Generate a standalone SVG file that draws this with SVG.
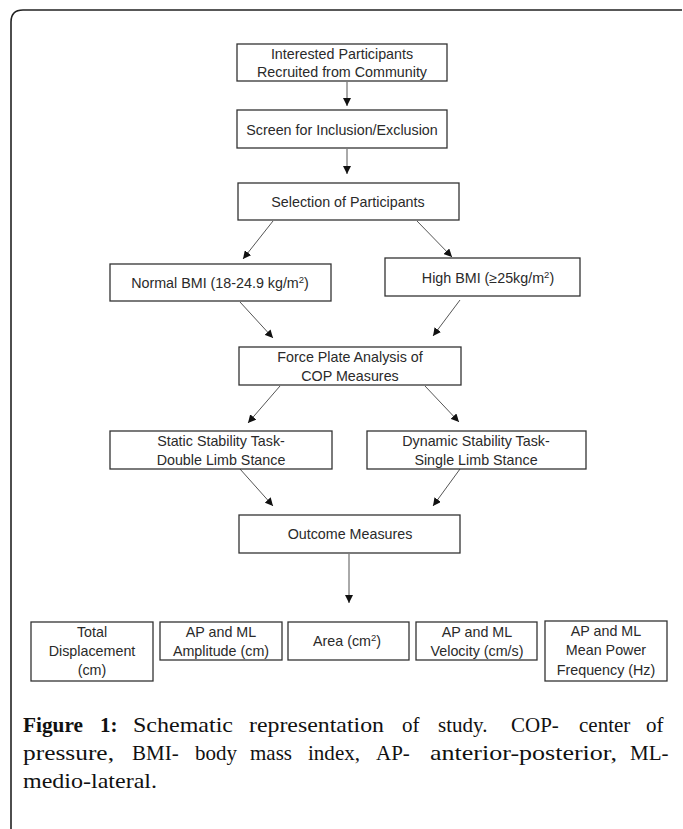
<svg xmlns="http://www.w3.org/2000/svg" width="683" height="829" viewBox="0 0 683 829">
<style>
.box{fill:#fff;stroke:#333;stroke-width:1.3}
.t{font-family:"Liberation Sans",Arial,sans-serif;font-size:14.3px;fill:#2a2a2a;text-anchor:middle}
.c{stroke:#555;stroke-width:1;fill:none;marker-end:url(#ah)}
.cap{font-family:"Liberation Serif","Times New Roman",serif;font-size:21px;fill:#111}
.b{font-weight:bold}
</style>
<defs>
<marker id="ah" viewBox="0 0 10 10" refX="10" refY="5" markerWidth="8" markerHeight="8" markerUnits="userSpaceOnUse" orient="auto">
<path d="M0,0 L10,5 L0,10 z" fill="#111"/>
</marker>
</defs>
<rect width="683" height="829" fill="#fff"/>
<path d="M11,829 V22 Q11,10 23,10 H682" fill="none" stroke="#222" stroke-width="1.6"/>

<g id="connectors">
<line class="c" x1="347" y1="82" x2="347" y2="106"/>
<line class="c" x1="347" y1="149" x2="347" y2="174"/>
<line class="c" x1="273" y1="221" x2="243" y2="259"/>
<line class="c" x1="417" y1="221" x2="452" y2="257"/>
<line class="c" x1="240" y1="302" x2="273" y2="338"/>
<line class="c" x1="460" y1="300" x2="433" y2="336"/>
<line class="c" x1="280" y1="386" x2="248" y2="423"/>
<line class="c" x1="425" y1="386" x2="459" y2="422"/>
<line class="c" x1="240" y1="469" x2="273" y2="506"/>
<line class="c" x1="460" y1="469" x2="433" y2="506"/>
<line class="c" x1="349" y1="554" x2="349" y2="603"/>
</g>

<g id="n1"><rect class="box" x="237" y="44" width="210" height="37"/>
<text class="t" x="342" y="59">Interested Participants</text>
<text class="t" x="342" y="77">Recruited from Community</text></g>

<g id="n2"><rect class="box" x="237" y="110" width="210" height="38"/>
<text class="t" x="342" y="135">Screen for Inclusion/Exclusion</text></g>

<g id="n3"><rect class="box" x="238" y="183" width="221" height="37"/>
<text class="t" x="348" y="207">Selection of Participants</text></g>

<g id="n4"><rect class="box" x="110" y="264" width="221" height="37"/>
<text class="t" x="220" y="288">Normal BMI (18-24.9 kg/m<tspan font-size="9.5" dy="-5">2</tspan><tspan dy="5">)</tspan></text></g>

<g id="n5"><rect class="box" x="385" y="258" width="195" height="38"/>
<text class="t" x="488" y="283">High BMI (≥25kg/m<tspan font-size="9.5" dy="-5">2</tspan><tspan dy="5">)</tspan></text></g>

<g id="n6"><rect class="box" x="239" y="347" width="222" height="38"/>
<text class="t" x="350" y="362">Force Plate Analysis of</text>
<text class="t" x="350" y="381">COP Measures</text></g>

<g id="n7"><rect class="box" x="110" y="431" width="222" height="38"/>
<text class="t" x="221" y="446">Static Stability Task-</text>
<text class="t" x="221" y="465">Double Limb Stance</text></g>

<g id="n8"><rect class="box" x="367" y="431" width="219" height="38"/>
<text class="t" x="476" y="446">Dynamic Stability Task-</text>
<text class="t" x="476" y="465">Single Limb Stance</text></g>

<g id="n9"><rect class="box" x="239" y="515" width="221" height="38"/>
<text class="t" x="350" y="539">Outcome Measures</text></g>

<g id="b1"><rect class="box" x="31" y="622" width="122" height="59"/>
<text class="t" x="92" y="637">Total</text>
<text class="t" x="92" y="656">Displacement</text>
<text class="t" x="92" y="675">(cm)</text></g>

<g id="b2"><rect class="box" x="160" y="622" width="122" height="38"/>
<text class="t" x="221" y="637">AP and ML</text>
<text class="t" x="221" y="656">Amplitude (cm)</text></g>

<g id="b3"><rect class="box" x="288" y="622" width="121" height="38"/>
<text class="t" x="347" y="646">Area (cm<tspan font-size="9.5" dy="-5">2</tspan><tspan dy="5">)</tspan></text></g>

<g id="b4"><rect class="box" x="416" y="622" width="121" height="38"/>
<text class="t" x="477" y="637">AP and ML</text>
<text class="t" x="477" y="656">Velocity (cm/s)</text></g>

<g id="b5"><rect class="box" x="545" y="621" width="122" height="60"/>
<text class="t" x="606" y="636">AP and ML</text>
<text class="t" x="606" y="655">Mean Power</text>
<text class="t" x="606" y="675">Frequency (Hz)</text></g>

<g id="caption" class="cap">
<text class="b" x="23" y="732" textLength="60" lengthAdjust="spacingAndGlyphs">Figure</text>
<text class="b" x="100" y="732">1:</text>
<text x="133" y="732" textLength="100" lengthAdjust="spacingAndGlyphs">Schematic</text>
<text x="249" y="732" textLength="135" lengthAdjust="spacingAndGlyphs">representation</text>
<text x="402" y="732">of</text>
<text x="438" y="732">study.</text>
<text x="511" y="732">COP-</text>
<text x="579" y="732">center</text>
<text x="646" y="732">of</text>
<text x="23" y="760" textLength="91" lengthAdjust="spacingAndGlyphs">pressure,</text>
<text x="132" y="760">BMI-</text>
<text x="195" y="760">body</text>
<text x="250" y="760">mass</text>
<text x="308" y="760" textLength="52" lengthAdjust="spacingAndGlyphs">index,</text>
<text x="376" y="760">AP-</text>
<text x="430" y="760" textLength="187" lengthAdjust="spacingAndGlyphs">anterior-posterior,</text>
<text x="630" y="760">ML-</text>
<text x="23" y="788" textLength="134" lengthAdjust="spacingAndGlyphs">medio-lateral.</text>
</g>
</svg>
